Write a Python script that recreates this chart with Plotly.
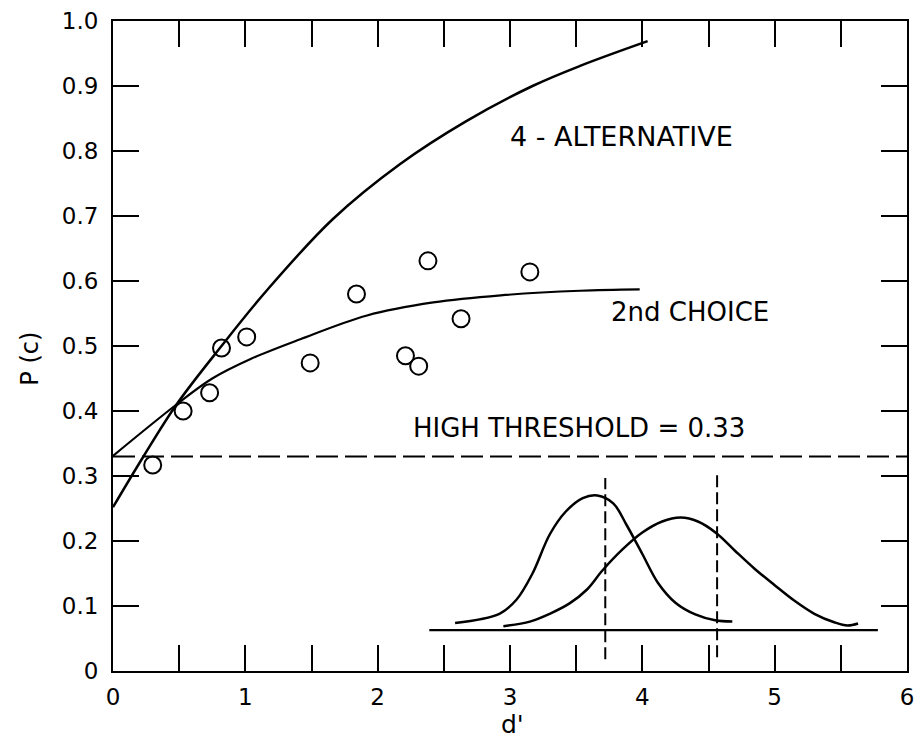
import plotly.graph_objects as go

# ---- data ----
obs_d = [0.30, 0.53, 0.73, 0.82, 1.01, 1.49, 1.84, 2.21, 2.31, 2.38, 2.63, 3.15]
obs_pc = [0.317, 0.400, 0.428, 0.497, 0.514, 0.474, 0.580, 0.485, 0.469, 0.631, 0.542, 0.614]

alt4_d = [0.0, 0.23, 0.48, 0.82, 1.16, 1.66, 2.17, 2.67, 3.17, 3.53, 4.04]
alt4_pc = [0.252, 0.330, 0.410, 0.500, 0.585, 0.695, 0.780, 0.846, 0.900, 0.931, 0.969]

choice2_d = [0.0, 0.48, 0.75, 1.04, 1.41, 1.92, 2.42, 2.93, 3.53, 3.98]
choice2_pc = [0.331, 0.410, 0.450, 0.480, 0.510, 0.547, 0.567, 0.578, 0.585, 0.587]

threshold = 0.33
threshold_d = [0.0, 6.0]

# inset: two distributions drawn on the same axes
dist1_x = [2.585, 2.92, 3.05, 3.17, 3.30, 3.42, 3.55, 3.66, 3.78, 3.88, 4.00, 4.12, 4.25, 4.40, 4.55, 4.68]
dist1_y = [0.074, 0.088, 0.110, 0.150, 0.210, 0.245, 0.266, 0.270, 0.258, 0.225, 0.180, 0.135, 0.105, 0.087, 0.078, 0.076]
dist2_x = [2.95, 3.15, 3.30, 3.45, 3.58, 3.70, 3.85, 4.00, 4.15, 4.29, 4.42, 4.56, 4.70, 4.85, 5.00, 5.15, 5.30, 5.45, 5.55, 5.63]
dist2_y = [0.069, 0.076, 0.088, 0.104, 0.125, 0.155, 0.187, 0.213, 0.230, 0.236, 0.230, 0.212, 0.185, 0.157, 0.132, 0.108, 0.088, 0.075, 0.070, 0.073]
base_x = [2.39, 5.78]
base_y = [0.063, 0.063]
crit1_x = [3.72, 3.72]
crit1_y = [0.018, 0.297]
crit2_x = [4.565, 4.565]
crit2_y = [0.021, 0.306]

x_tickvals = [0, 0.5, 1, 1.5, 2, 2.5, 3, 3.5, 4, 4.5, 5, 5.5, 6]
x_ticktext = ["0", "", "1", "", "2", "", "3", "", "4", "", "5", "", "6"]
y_tickvals = [0, 0.1, 0.2, 0.3, 0.4, 0.5, 0.6, 0.7, 0.8, 0.9, 1.0]
y_ticktext = ["0", "0.1", "0.2", "0.3", "0.4", "0.5", "0.6", "0.7", "0.8", "0.9", "1.0"]

FONT = "DejaVu Sans"
INK = "black"

fig = go.Figure()

fig.add_trace(go.Scatter(x=alt4_d, y=alt4_pc, mode="lines",
                         line=dict(color=INK, width=2.5, shape="spline", smoothing=1.0),
                         hoverinfo="skip"))
fig.add_trace(go.Scatter(x=choice2_d, y=choice2_pc, mode="lines",
                         line=dict(color=INK, width=2.2, shape="spline", smoothing=1.0),
                         hoverinfo="skip"))
fig.add_trace(go.Scatter(x=threshold_d, y=[threshold, threshold], mode="lines",
                         line=dict(color=INK, width=2, dash="22px,7px"), hoverinfo="skip"))
fig.add_trace(go.Scatter(x=obs_d, y=obs_pc, mode="markers",
                         marker=dict(symbol="circle-open", size=17, color=INK, line=dict(width=2, color=INK))))

# inset
fig.add_trace(go.Scatter(x=base_x, y=base_y, mode="lines", line=dict(color=INK, width=2.2), hoverinfo="skip"))
fig.add_trace(go.Scatter(x=dist1_x, y=dist1_y, mode="lines",
                         line=dict(color=INK, width=2.5, shape="spline", smoothing=1.0), hoverinfo="skip"))
fig.add_trace(go.Scatter(x=dist2_x, y=dist2_y, mode="lines",
                         line=dict(color=INK, width=2.5, shape="spline", smoothing=1.0), hoverinfo="skip"))
fig.add_trace(go.Scatter(x=crit1_x, y=crit1_y, mode="lines",
                         line=dict(color=INK, width=2, dash="12px,5px"), hoverinfo="skip"))
fig.add_trace(go.Scatter(x=crit2_x, y=crit2_y, mode="lines",
                         line=dict(color=INK, width=2, dash="12px,5px"), hoverinfo="skip"))

fig.add_annotation(x=3.84, y=0.823, text="4 - ALTERNATIVE", showarrow=False,
                   font=dict(family=FONT, size=27, color=INK))
fig.add_annotation(x=4.36, y=0.552, text="2nd CHOICE", showarrow=False,
                   font=dict(family=FONT, size=26, color=INK))
fig.add_annotation(x=3.52, y=0.374, text="HIGH THRESHOLD = 0.33", showarrow=False,
                   font=dict(family=FONT, size=26, color=INK))

# axis titles as annotations
fig.add_annotation(xref="paper", yref="paper", x=-0.105, y=0.48, xanchor="center", yanchor="middle",
                   text="P (c)", textangle=-90,
                   showarrow=False, font=dict(family=FONT, size=24, color=INK))
fig.add_annotation(xref="paper", yref="paper", x=0.5035, y=-0.082, xanchor="center", yanchor="middle",
                   text="d'", showarrow=False, font=dict(family=FONT, size=25, color=INK))

axis_common = dict(showline=True, linecolor=INK, linewidth=2, mirror="ticks",
                   ticks="inside", ticklen=26, tickwidth=2, tickcolor=INK,
                   showgrid=False, zeroline=False, automargin=False,
                   tickfont=dict(family=FONT, size=23, color=INK))

fig.update_xaxes(range=[0, 6], tickmode="array", tickvals=x_tickvals, ticktext=x_ticktext,
                 ticklabelstandoff=4, **axis_common)
fig.update_yaxes(range=[0, 1.0], tickmode="array", tickvals=y_tickvals, ticktext=y_ticktext,
                 ticklabelstandoff=8, **axis_common)

# page body has an 8px default margin; compensate so the plot box lands where the reference has it
fig.update_layout(width=914, height=735, margin=dict(l=105, r=15, t=13, b=72),
                  paper_bgcolor="white", plot_bgcolor="white", showlegend=False,
                  font=dict(family=FONT, color=INK))

fig.write_html("out.html")
